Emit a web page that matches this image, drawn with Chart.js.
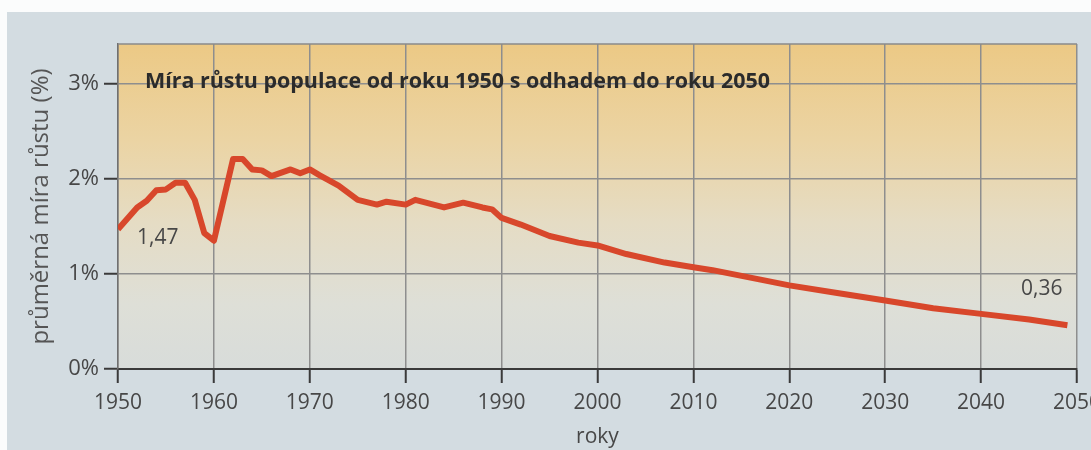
<!DOCTYPE html>
<html>
<head>
<meta charset="utf-8">
<script src="https://cdn.jsdelivr.net/npm/chart.js@4.4.1/dist/chart.umd.min.js"></script>
<style>
  html, body { margin: 0; padding: 0; background: #d3dce1; }
  #c { display: block; }
</style>
</head>
<body>
<canvas id="c" width="1091" height="450"></canvas>
<script>
// ---- data ----
const years = [1950, 1952, 1953, 1954, 1955, 1956, 1957, 1958, 1959, 1960,
  1962, 1963, 1964, 1965, 1966, 1968, 1969, 1970, 1971, 1973,
  1975, 1977, 1978, 1980, 1981, 1984, 1986, 1988, 1989, 1990,
  1992, 1995, 1998, 2000, 2003, 2007, 2010, 2012, 2017, 2020,
  2025, 2030, 2035, 2040, 2045, 2049];
const growth = [1.47, 1.70, 1.77, 1.88, 1.89, 1.96, 1.96, 1.78, 1.43, 1.35,
  2.21, 2.21, 2.10, 2.09, 2.03, 2.10, 2.06, 2.10, 2.04, 1.93,
  1.78, 1.73, 1.76, 1.73, 1.78, 1.70, 1.75, 1.70, 1.68, 1.59,
  1.52, 1.40, 1.33, 1.30, 1.21, 1.12, 1.07, 1.04, 0.94, 0.88,
  0.80, 0.72, 0.64, 0.58, 0.52, 0.46];
const xTicks = [1950, 1960, 1970, 1980, 1990, 2000, 2010, 2020, 2030, 2040, 2050];
const yTicks = [0, 1, 2, 3];
const annotYears = [1950, 2049];
const annotTexts = ['1,47', '0,36'];
const chartTitle = 'Míra růstu populace od roku 1950 s odhadem do roku 2050';
const yTitle = 'průměrná míra růstu (%)';
const xTitle = 'roky';

const FONT = "'Open Sans', 'Noto Sans', sans-serif";

const backdrop = {
  id: 'backdrop',
  beforeDraw(chart) {
    const {ctx, chartArea: a, width, height} = chart;
    ctx.save();
    ctx.fillStyle = '#d3dce1';
    ctx.fillRect(0, 0, width, height);
    ctx.fillStyle = '#fbfcfc';
    ctx.fillRect(0, 0, width, 12);
    ctx.fillRect(0, 0, 7, height);
    const g = ctx.createLinearGradient(0, a.top, 0, a.bottom);
    g.addColorStop(0, '#ecc985');
    g.addColorStop(0.3, '#ebd4a4');
    g.addColorStop(0.55, '#e5dcc4');
    g.addColorStop(0.8, '#dedfd7');
    g.addColorStop(1, '#d8dcda');
    ctx.fillStyle = g;
    ctx.fillRect(a.left, a.top, a.right - a.left, a.bottom - a.top);
    ctx.restore();
  },
  afterDraw(chart) {
    const {ctx, chartArea: a, scales} = chart;
    ctx.save();
    ctx.strokeStyle = '#8a8a8a';
    ctx.lineWidth = 1.5;
    ctx.beginPath();
    ctx.moveTo(a.left, a.top);
    ctx.lineTo(a.right, a.top);
    ctx.stroke();
    ctx.fillStyle = '#2b2b2b';
    let size = 21;
    ctx.font = 'bold ' + size + 'px ' + FONT;
    const w = ctx.measureText(chartTitle).width;
    size = size * 625 / w;
    ctx.font = 'bold ' + size.toFixed(2) + 'px ' + FONT;
    ctx.textBaseline = 'middle';
    ctx.textAlign = 'left';
    ctx.fillText(chartTitle, a.left + 27, scales.y.getPixelForValue(3) - 2);
    ctx.fillStyle = '#474747';
    ctx.font = '21px ' + FONT;
    const x0 = scales.x.getPixelForValue(annotYears[0]);
    const y0 = scales.y.getPixelForValue(growth[0]);
    ctx.textAlign = 'left';
    ctx.fillText(annotTexts[0], x0 + 19, y0 + 9);
    const x1 = scales.x.getPixelForValue(annotYears[1]);
    const y1 = scales.y.getPixelForValue(growth[growth.length - 1]);
    ctx.textAlign = 'right';
    ctx.fillText(annotTexts[1], x1 - 5, y1 - 36);
    ctx.restore();
  }
};

new Chart(document.getElementById('c'), {
  type: 'line',
  data: {
    datasets: [{
      data: years.map((y, i) => ({x: y, y: growth[i]})),
      borderColor: '#d8472b',
      borderWidth: 6,
      borderJoinStyle: 'round',
      borderCapStyle: 'butt',
      pointRadius: 0,
      tension: 0,
      fill: false
    }]
  },
  options: {
    responsive: false,
    animation: false,
    layout: {padding: {left: 0, right: 14, top: 44, bottom: 0}},
    plugins: {legend: {display: false}, tooltip: {enabled: false}},
    scales: {
      x: {
        type: 'linear',
        min: xTicks[0],
        max: xTicks[xTicks.length - 1],
        afterBuildTicks(s) { s.ticks = xTicks.map(v => ({value: v})); },
        afterFit(s) { s.height = 81; s.paddingLeft = 0; s.paddingRight = 0; },
        ticks: {
          callback: v => String(v),
          color: '#474747',
          font: {family: FONT, size: 21},
          padding: 7,
          maxRotation: 0,
          autoSkip: false
        },
        grid: {color: '#8e8e8e', lineWidth: 1.5, tickLength: 14, tickColor: '#3a3a3a', tickWidth: 2},
        border: {color: '#3a3a3a', width: 2},
        title: {display: true, text: xTitle, color: '#474747', font: {family: FONT, size: 21}, padding: {top: 0, bottom: 0}}
      },
      y: {
        min: 0,
        max: 3.42,
        afterBuildTicks(s) { s.ticks = yTicks.map(v => ({value: v})); },
        afterFit(s) { s.width = 118; s.paddingTop = 0; s.paddingBottom = 0; },
        ticks: {
          callback: v => v + '%',
          color: '#474747',
          font: {family: FONT, size: 22},
          padding: 5
        },
        grid: {color: '#8e8e8e', lineWidth: 1.5, tickLength: 14, tickColor: '#3a3a3a', tickWidth: 2},
        border: {color: '#707070', width: 1.5},
        title: {display: true, text: yTitle, color: '#555555', font: {family: FONT, size: 24}, padding: {top: 27, bottom: 0}}
      }
    }
  },
  plugins: [backdrop]
});
</script>
</body>
</html>
